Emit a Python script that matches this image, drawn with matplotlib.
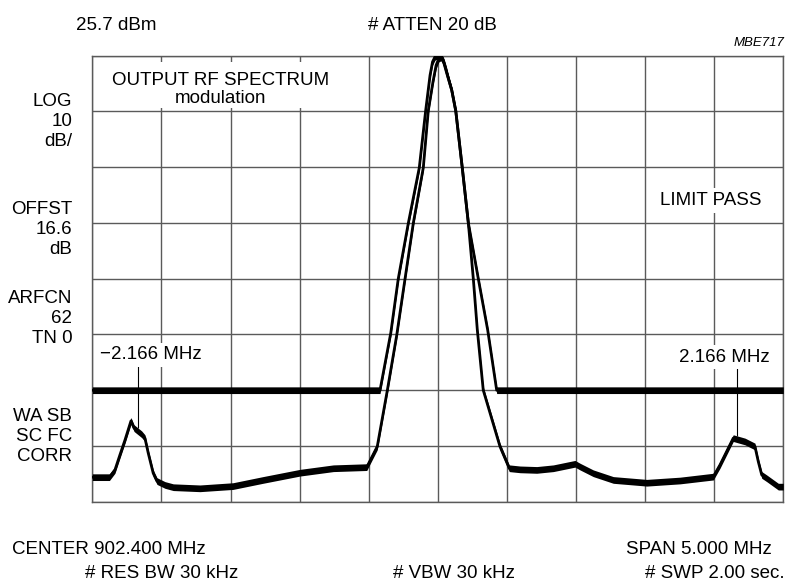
import numpy as np
import matplotlib
matplotlib.use("Agg")
import matplotlib.pyplot as plt
from matplotlib.patches import Rectangle

plt.rcParams['font.family'] = ['Liberation Sans', 'DejaVu Sans']

# Frequency offset from centre (MHz) and level (dBm)
ref_level = 25.7
db_per_div = 10
n_xdiv, n_ydiv = 10, 8
span = 5.0

# Limit (mask) trace
limit_freq = [-2.5, -0.418, -0.340, -0.286, -0.213, -0.134, -0.088, -0.056,
              -0.038, -0.020, -0.004, 0.012, 0.028, 0.045, 0.062, 0.101,
              0.130, 0.177, 0.221, 0.293, 0.361, 0.426, 2.5]
limit_level = [-34.3, -34.3, -24.0, -14.3, -4.3, 5.6, 15.8, 22.2,
               24.6, 25.5, 25.7, 25.7, 25.3, 24.3, 22.8, 19.5,
               15.8, 5.6, -4.3, -14.3, -23.5, -34.3, -34.3]

# Measured modulation spectrum trace
trace_freq = [-2.5, -2.376, -2.336, -2.300, -2.263, -2.220, -2.198, -2.143,
              -2.119, -2.095, -2.059, -2.032, -1.974, -1.914, -1.721, -1.482,
              -1.265, -0.997, -0.756, -0.514, -0.438, -0.365, -0.297, -0.237,
              -0.177, -0.105, -0.069, -0.035, -0.012, 0.008, 0.024, 0.040,
              0.056, 0.075, 0.101, 0.130, 0.177, 0.221, 0.257, 0.286,
              0.329, 0.450, 0.517, 0.595, 0.716, 0.836, 0.993, 1.029,
              1.125, 1.270, 1.512, 1.753, 1.994, 2.042, 2.090, 2.138,
              2.223, 2.295, 2.319, 2.344, 2.380, 2.464, 2.5]
trace_level = [-49.9, -49.9, -48.6, -45.9, -43.2, -39.8, -41.1, -42.2,
               -42.9, -45.6, -49.2, -50.6, -51.3, -51.7, -51.9, -51.5,
               -50.4, -49.1, -48.3, -48.1, -44.4, -34.3, -24.4, -14.3,
               -4.3, 5.6, 15.8, 21.0, 24.0, 25.2, 25.4, 24.9,
               23.6, 21.8, 19.5, 15.8, 5.6, -4.3, -14.3, -23.5,
               -34.3, -44.4, -48.3, -48.5, -48.6, -48.3, -47.5, -48.0,
               -49.2, -50.4, -50.9, -50.5, -49.8, -47.7, -45.3, -42.9,
               -43.5, -44.4, -47.1, -49.5, -50.1, -51.6, -51.6]

marker_freqs = [-2.166, 2.166]
marker_labels = ["\u22122.166 MHz", "2.166 MHz"]

header_left = "25.7 dBm"
header_mid = "# ATTEN 20 dB"
figure_id = "MBE717"
side_labels = ["LOG", "10", "dB/", "OFFST", "16.6", "dB",
               "ARFCN", "62", "TN 0", "WA SB", "SC FC", "CORR"]
footer = ["CENTER 902.400 MHz", "SPAN 5.000 MHz",
          "# RES BW 30 kHz", "# VBW 30 kHz", "# SWP 2.00 sec."]

W, H = 788, 583
fig = plt.figure(figsize=(W / 100, H / 100), dpi=100)
fig.patch.set_facecolor("white")


def fpos(x, y):
    """Pixel position (from top-left) to figure fraction."""
    return x / W, 1 - y / H


L, R, T, B = 92.3, 783.3, 55.7, 501.7
ax = fig.add_axes([L / W, 1 - B / H, (R - L) / W, (B - T) / H])

bottom_level = ref_level - n_ydiv * db_per_div
ax.set_xlim(-span / 2, span / 2)
ax.set_ylim(bottom_level, ref_level)
ax.set_xticks(np.linspace(-span / 2, span / 2, n_xdiv + 1))
ax.set_yticks(ref_level - db_per_div * np.arange(n_ydiv + 1))
ax.tick_params(length=0, labelbottom=False, labelleft=False)
ax.set_axisbelow(True)
ax.grid(True, color="#5a5a5a", linewidth=1.0)
for s in ax.spines.values():
    s.set_color("#5a5a5a")
    s.set_linewidth(1.0)

# Title area keeps the grid clear behind its text
ax.add_patch(Rectangle((-2.48, 16.3), 1.917, 8.3, facecolor="white",
                       edgecolor="none", zorder=1))

band = 0.6
lf, ll = np.array(limit_freq), np.array(limit_level)
tf, tl = np.array(trace_freq), np.array(trace_level)
for f, lev in ((lf, ll), (tf, tl)):
    ax.fill_between(f, lev - band, lev + band, color="black", linewidth=0, zorder=3)
    ax.plot(f, lev, color="black", linewidth=2.0, zorder=3)

# Marker lines down to the trace
marker_top = -30.0
for mf in marker_freqs:
    ax.vlines(mf, np.interp(mf, tf, tl) + band, marker_top, color="black",
              linewidth=0.8, zorder=4)

fs = 13.5
# Header
fig.text(*fpos(116.7, 30), header_left, ha="center", va="baseline", fontsize=fs)
fig.text(*fpos(432, 30), header_mid, ha="center", va="baseline", fontsize=fs)
fig.text(*fpos(784, 46), figure_id, ha="right", va="baseline", fontsize=9.5,
         style="italic")

# Side annotation column
side_baselines = [106, 126, 146, 214, 234, 254, 303, 323, 343, 421, 441, 461]
for txt, yb in zip(side_labels, side_baselines):
    fig.text(*fpos(72.3, yb), txt, ha="right", va="baseline", fontsize=fs)

# In-graticule annotations
fig.text(*fpos(221, 85), "OUTPUT RF SPECTRUM", ha="center", va="baseline",
         fontsize=fs)
fig.text(*fpos(221, 103), "modulation", ha="center", va="baseline", fontsize=fs)
box = dict(facecolor="white", edgecolor="none", pad=2.5)
fig.text(*fpos(711, 205), "LIMIT PASS", ha="center", va="baseline",
         fontsize=fs, bbox=box)
fig.text(*fpos(100, 359.3), marker_labels[0], ha="left", va="baseline",
         fontsize=fs, bbox=box)
fig.text(*fpos(770, 361.7), marker_labels[1], ha="right", va="baseline",
         fontsize=fs, bbox=box)

# Footer
fig.text(*fpos(11.7, 554.3), footer[0], ha="left", va="baseline", fontsize=fs)
fig.text(*fpos(772, 554.3), footer[1], ha="right", va="baseline", fontsize=fs)
fig.text(*fpos(85, 578.3), footer[2], ha="left", va="baseline", fontsize=fs)
fig.text(*fpos(393, 578.3), footer[3], ha="left", va="baseline", fontsize=fs)
fig.text(*fpos(785, 578.3), footer[4], ha="right", va="baseline", fontsize=fs)

fig.savefig("out.png", dpi=100, facecolor="white")
